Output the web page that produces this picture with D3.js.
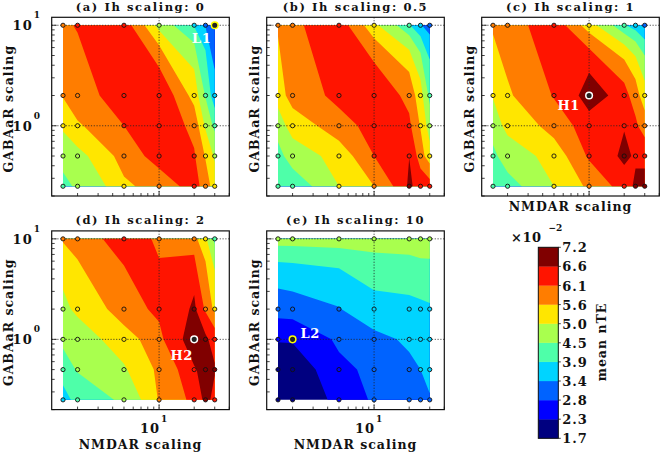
<!DOCTYPE html>
<html><head><meta charset="utf-8">
<script src="https://cdn.jsdelivr.net/npm/d3@7"></script>
<style>
body{margin:0;background:#fff}
text{font-family:'DejaVu Serif',serif;font-weight:bold;fill:#111}
</style>
</head><body><svg id="c" width="660" height="453"></svg>
<script>
// ---- data ----
const nmdar = [1.5, 2, 5, 10, 20, 25, 30];          // x grid (NMDAR scaling)
const gabaa = [0.25, 0.5, 1, 2, 10];                 // y grid (GABAaR scaling)
const levels = [1.70, 2.25, 2.80, 3.35, 3.90, 4.45, 5.00, 5.55, 6.10, 6.65, 7.20];
const levelLabels = ["1.7","2.3","2.8","3.4","3.9","4.5","5.0","5.6","6.1","6.6","7.2"];
const titles = ["(a) Ih scaling: 0","(b) Ih scaling: 0.5","(c) Ih scaling: 1","(d) Ih scaling: 2","(e) Ih scaling: 10"];
// mean nTE (x1e-2); rows = gabaa (0.25 .. 10), columns = nmdar (1.5 .. 30)
const nteA = [
  [4.30, 4.55, 5.45, 5.85, 6.35, 5.80, 5.30],
  [4.70, 4.85, 5.85, 6.35, 6.15, 5.50, 4.90],
  [5.10, 5.50, 6.10, 6.50, 5.90, 4.90, 4.30],
  [5.60, 5.90, 6.45, 6.50, 5.30, 4.40, 3.50],
  [6.00, 6.15, 6.35, 4.75, 3.85, 3.30, 2.75]];
const nteB = [
  [4.05, 4.20, 5.00, 5.55, 6.75, 6.40, 6.30],
  [4.30, 4.70, 5.30, 6.10, 6.64, 5.80, 5.20],
  [4.70, 5.30, 5.90, 6.35, 6.20, 5.50, 4.70],
  [5.30, 5.80, 6.30, 6.50, 5.90, 5.20, 4.30],
  [5.65, 6.05, 6.35, 5.10, 3.95, 3.40, 3.05]];
const nteC = [
  [4.10, 4.30, 5.00, 5.70, 6.40, 6.75, 6.85],
  [4.35, 4.70, 5.30, 6.20, 6.80, 6.55, 6.45],
  [4.70, 5.20, 5.80, 6.45, 6.60, 6.20, 5.80],
  [5.05, 5.50, 6.15, 6.95, 6.30, 5.80, 5.20],
  [5.70, 5.95, 6.40, 5.20, 3.95, 3.60, 3.20]];
const nteD = [
  [3.70, 4.10, 4.60, 5.60, 6.30, 6.80, 6.50],
  [4.20, 4.50, 4.95, 5.70, 6.60, 6.85, 6.70],
  [4.60, 4.80, 5.30, 6.00, 7.10, 6.75, 6.40],
  [4.90, 5.10, 5.95, 6.20, 6.75, 6.00, 5.40],
  [5.62, 5.95, 6.30, 6.02, 5.70, 5.10, 4.30]];
const nteE = [
  [1.72, 1.85, 2.45, 2.90, 3.10, 3.20, 3.33],
  [1.90, 2.00, 2.65, 3.00, 3.25, 3.35, 3.45],
  [2.30, 2.30, 2.95, 3.22, 3.45, 3.50, 3.55],
  [3.10, 3.15, 3.33, 3.76, 3.80, 3.83, 3.86],
  [4.75, 4.75, 4.80, 4.80, 4.85, 4.95, 4.95]];
const marks = [ // highlighted points: panel, x, y, label
  {p:0, x:30, y:10, label:"L1", ring:"#ffff00"},
  {p:2, x:10, y:2,  label:"H1", ring:"#ffffff"},
  {p:3, x:20, y:1,  label:"H2", ring:"#ffffff"},
  {p:4, x:2,  y:1,  label:"L2", ring:"#ffff00"}];

// ---- jet colours for 10 bands ----
function jet(t){
  const seg=(pts)=>{for(let i=1;i<pts.length;i++){if(t<=pts[i][0]){const[a,va]=pts[i-1],[b,vb]=pts[i];return va+(vb-va)*(t-a)/(b-a);}}return pts[pts.length-1][1];};
  const r=seg([[0,0],[0.35,0],[0.66,1],[0.89,1],[1,0.5]]);
  const g=seg([[0,0],[0.125,0],[0.375,1],[0.64,1],[0.91,0],[1,0]]);
  const b=seg([[0,0.5],[0.11,1],[0.34,1],[0.65,0],[1,0]]);
  return d3.rgb(r*255,g*255,b*255).formatHex();
}
const colors = d3.range(10).map(i=>jet(i/9));
const band = v => Math.max(0, Math.min(9, d3.bisectRight(levels, v) - 1));

// filled region {v >= t} on the quad grid (marching squares, saddles by centre mean)
function regionPath(data, t, x, y) {
  let d = "";
  const P = (X, Y) => x(X).toFixed(2) + "," + y(Y).toFixed(2);
  for (let j = 0; j < gabaa.length - 1; j++) for (let i = 0; i < nmdar.length - 1; i++) {
    const cs = [[i,j],[i+1,j],[i+1,j+1],[i,j+1]];
    const vs = cs.map(([a,b]) => data[b][a]);
    const ins = vs.map(v => v >= t);
    const n = ins.filter(Boolean).length;
    if (n === 0) continue;
    const corner = k => P(nmdar[cs[k][0]], gabaa[cs[k][1]]);
    const cross = k => {
      const k2 = (k+1) % 4, f = (t - vs[k]) / (vs[k2] - vs[k]);
      const X = nmdar[cs[k][0]] + f*(nmdar[cs[k2][0]] - nmdar[cs[k][0]]);
      const Y = gabaa[cs[k][1]] + f*(gabaa[cs[k2][1]] - gabaa[cs[k][1]]);
      return P(X, Y);
    };
    const saddle = n === 2 && ins[0] === ins[2];
    if (saddle && d3.mean(vs) < t) {
      for (let k = 0; k < 4; k++) if (ins[k]) d += "M" + [cross((k+3)%4), corner(k), cross(k)].join("L") + "Z";
    } else {
      const pts = [];
      for (let k = 0; k < 4; k++) { if (ins[k]) pts.push(corner(k)); if (ins[k] !== ins[(k+1)%4]) pts.push(cross(k)); }
      d += "M" + pts.join("L") + "Z";
    }
  }
  return d;
}

const svg = d3.select("#c");
const W = 177.6, H = 178.7;
const panels = [
  {x0:51.7,  y0:17.3,  data:nteA, yLab:true,  xTick:false, xLab:false},
  {x0:266.7, y0:17.3,  data:nteB, yLab:false, xTick:false, xLab:false},
  {x0:481.7, y0:17.3,  data:nteC, yLab:false, xTick:false, xLab:true},
  {x0:51.7,  y0:230.9, data:nteD, yLab:true,  xTick:true,  xLab:true},
  {x0:266.7, y0:230.9, data:nteE, yLab:false, xTick:true,  xLab:true}];
const labelPos = {"L1":[150,25.7],"H1":[87,92.7],"H2":[130,129],"L2":[43.5,107]};

panels.forEach((P, pi) => {
  const g = svg.append("g").attr("transform", `translate(${P.x0},${P.y0})`);
  const x = d3.scaleLog().domain([1.2, 40]).range([0, W]);
  const y = d3.scaleLog().domain([0.2, 12]).range([H, 0]);
  levels.slice(0, -1).forEach((t, i) => {
    const d = regionPath(P.data, t, x, y);
    if (d) g.append("path").attr("d", d).attr("fill", colors[i]);
  });
  // grid
  const grid = g.append("g").attr("stroke","#222").attr("stroke-width",0.8).attr("stroke-dasharray","1.2,1.6");
  [10].forEach(v => grid.append("line").attr("x1",x(v)).attr("x2",x(v)).attr("y1",0).attr("y2",H));
  [1,10].forEach(v => grid.append("line").attr("y1",y(v)).attr("y2",y(v)).attr("x1",0).attr("x2",W));
  // ticks (inward)
  const tk = g.append("g").attr("stroke","#111").attr("stroke-width",0.8);
  const yMinor = [0.2,0.3,0.4,0.5,0.6,0.7,0.8,0.9,2,3,4,5,6,7,8,9];
  yMinor.forEach(v => tk.append("line").attr("x1",0).attr("x2",3).attr("y1",y(v)).attr("y2",y(v)));
  [1,10].forEach(v => tk.append("line").attr("x1",0).attr("x2",5).attr("y1",y(v)).attr("y2",y(v)));
  const xMinor = [2,3,4,5,6,7,8,9,20,30,40];
  xMinor.forEach(v => tk.append("line").attr("y1",H).attr("y2",H-3).attr("x1",x(v)).attr("x2",x(v)));
  tk.append("line").attr("y1",H).attr("y2",H-5).attr("x1",x(10)).attr("x2",x(10));
  // points
  gabaa.forEach((gv, j) => nmdar.forEach((nv, i) => {
    g.append("circle").attr("cx",x(nv)).attr("cy",y(gv)).attr("r",2.1)
      .attr("fill", colors[band(P.data[j][i])]).attr("stroke","#111").attr("stroke-width",0.9);
  }));
  marks.filter(m => m.p === pi).forEach(m => {
    g.append("circle").attr("cx",x(m.x)).attr("cy",y(m.y)).attr("r",3.3)
      .attr("fill","#222").attr("stroke",m.ring).attr("stroke-width",1.5);
  });
  // frame
  g.append("rect").attr("width",W).attr("height",H).attr("fill","none").attr("stroke","#111").attr("stroke-width",1.2);
  // title
  g.append("text").attr("x",W/2).attr("y",-6.6).attr("text-anchor","middle")
    .style("font-size","11.5px").style("letter-spacing","1.6px").text(titles[pi]);
  // y label
  const yl = P.yLab ? -39 : -7.5;
  g.append("text").attr("transform",`translate(${yl},${H/2+2}) rotate(-90)`).attr("text-anchor","middle")
    .style("font-size","12.5px").style("letter-spacing","1px").text("GABAaR scaling");
  if (P.yLab) {
    [[10,"1"],[1,"0"]].forEach(([v,e]) => {
      g.append("text").attr("x",-19).attr("y",y(v)+5).attr("text-anchor","end")
        .style("font-size","13px").style("letter-spacing","1px").text("10");
      g.append("text").attr("x",-18).attr("y",y(v)-7).style("font-size","9px").text(e);
    });
  }
  if (P.xTick) {
    g.append("text").attr("x",x(10)+1).attr("y",H+23.5).attr("text-anchor","end")
      .style("font-size","13px").style("letter-spacing","1px").text("10");
    g.append("text").attr("x",x(10)+2).attr("y",H+12.5).style("font-size","9px").text("1");
  }
  if (P.xLab) {
    g.append("text").attr("x",W/2).attr("y",P.xTick ? H+39.5 : H+15).attr("text-anchor","middle")
      .style("font-size","12.5px").style("letter-spacing","1px").text("NMDAR scaling");
  }
  marks.filter(m => m.p === pi).forEach(m => {
    g.append("text").attr("x",labelPos[m.label][0]).attr("y",labelPos[m.label][1]).attr("text-anchor","middle")
      .style("font-size","13px").style("letter-spacing","0.5px").style("fill","#fff").text(m.label);
  });
});

// ---- colorbar ----
const cb = svg.append("g");
const cbX = 538.3, cbW = 20;
const cy = d3.scaleLinear().domain([levels[0], levels[levels.length-1]]).range([438.3, 247.3]);
for (let i = 0; i < 10; i++) {
  cb.append("rect").attr("x",cbX).attr("width",cbW).attr("y",cy(levels[i+1])).attr("height",cy(levels[i])-cy(levels[i+1]))
    .attr("fill",colors[i]).attr("stroke",colors[i]).attr("stroke-width",0.3);
}
cb.append("rect").attr("x",cbX).attr("width",cbW).attr("y",cy(levels[10])).attr("height",cy(levels[0])-cy(levels[10]))
  .attr("fill","none").attr("stroke","#111").attr("stroke-width",1);
levels.forEach((v,i) => {
  cb.append("line").attr("x1",cbX+cbW).attr("x2",cbX+cbW+2.5).attr("y1",cy(v)).attr("y2",cy(v)).attr("stroke","#111").attr("stroke-width",0.8);
  cb.append("text").attr("x",cbX+cbW+4).attr("y",cy(v)+5).style("font-size","13px").style("letter-spacing","1px").text(levelLabels[i]);
});
cb.append("text").attr("x",511).attr("y",241.5).style("font-size","13px").style("letter-spacing","0.5px").text("×10");
cb.append("text").attr("x",548.5).attr("y",231).style("font-size","9px").text("−2");
cb.append("text").attr("transform","translate(606,342) rotate(-90)").attr("text-anchor","middle")
  .style("font-size","12.5px").style("letter-spacing","1px").text("mean nTE");
</script>
</body></html>
